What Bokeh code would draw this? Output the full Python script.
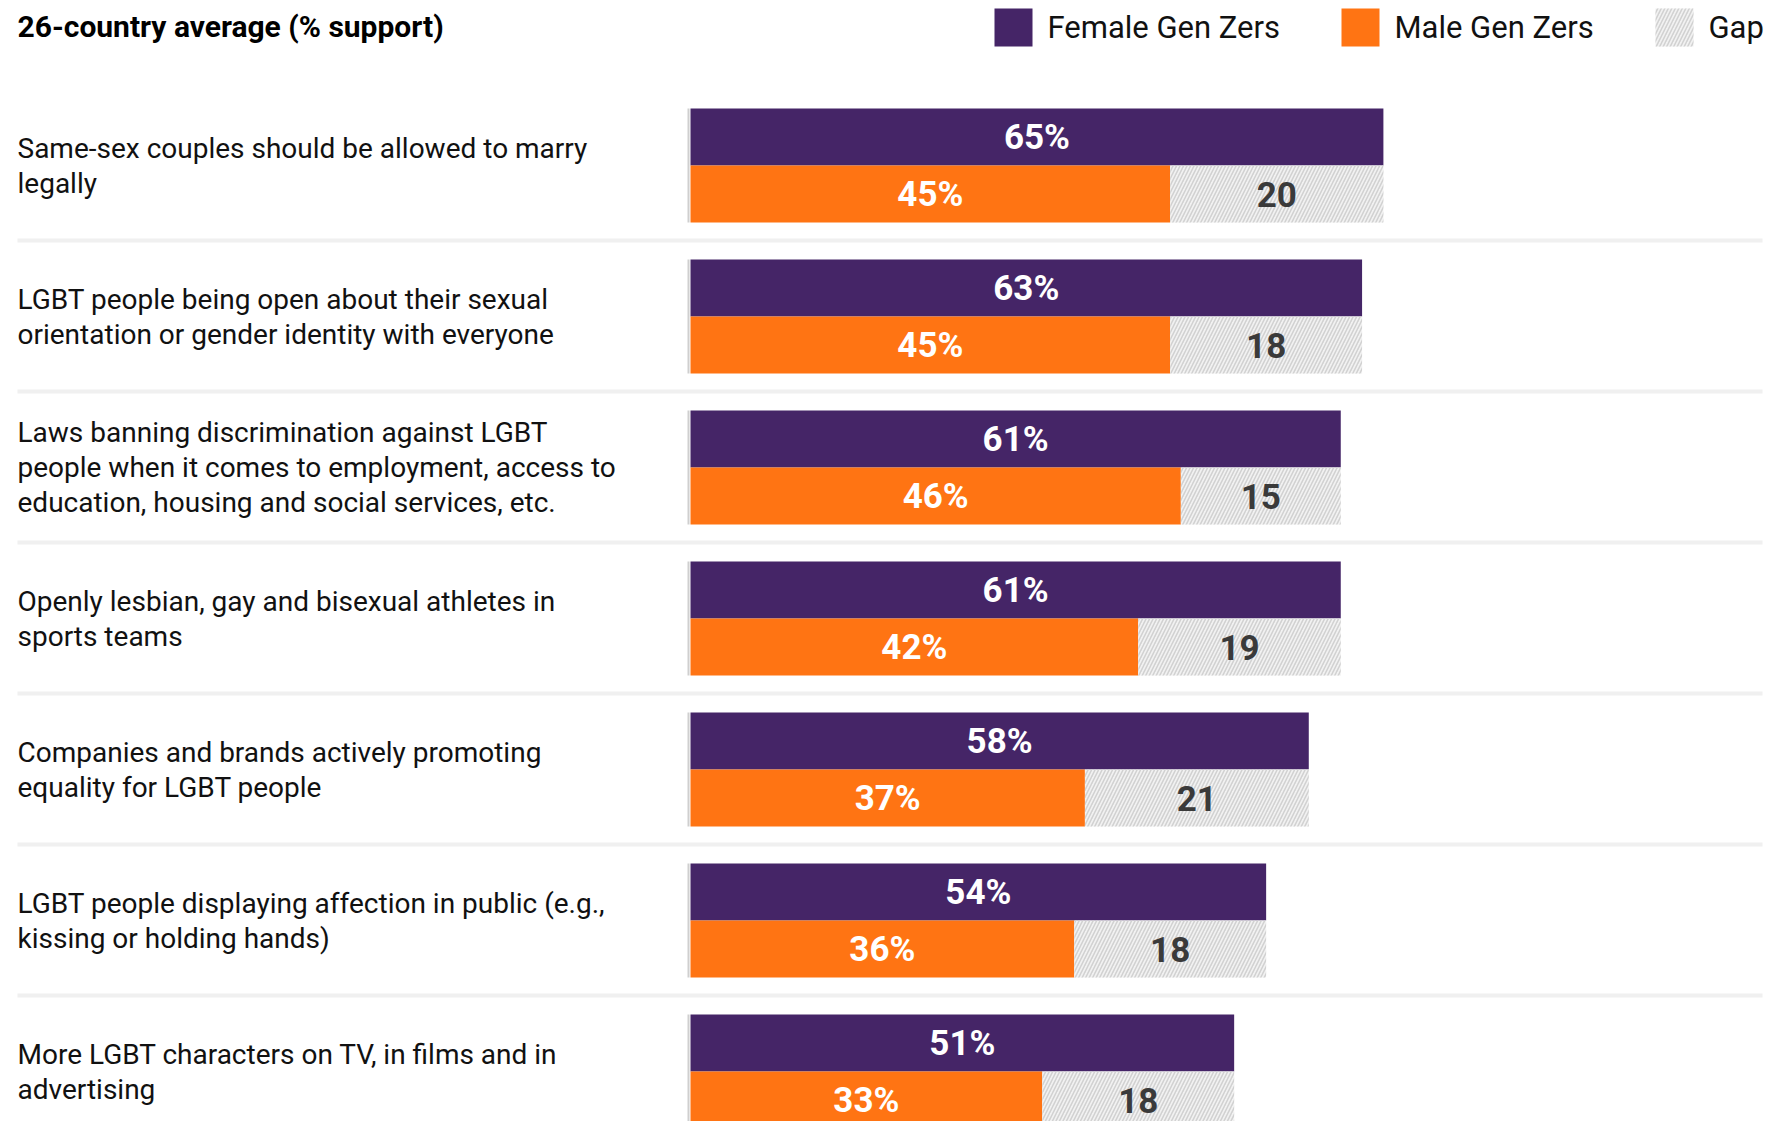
from bokeh.plotting import figure
from bokeh.models import Range1d, ColumnDataSource
from bokeh.core.properties import value
from bokeh.embed import file_html
from bokeh.resources import INLINE

# ---- data ----
categories = [
    ["Same-sex couples should be allowed to marry", "legally"],
    ["LGBT people being open about their sexual", "orientation or gender identity with everyone"],
    ["Laws banning discrimination against LGBT", "people when it comes to employment, access to",
     "education, housing and social services, etc."],
    ["Openly lesbian, gay and bisexual athletes in", "sports teams"],
    ["Companies and brands actively promoting", "equality for LGBT people"],
    ["LGBT people displaying affection in public (e.g.,", "kissing or holding hands)"],
    ["More LGBT characters on TV, in films and in", "advertising"],
]
female = [65, 63, 61, 61, 58, 54, 51]
male = [45, 45, 46, 42, 37, 36, 33]
gap = [20, 18, 15, 19, 21, 18, 18]
series_names = ["Female Gen Zers", "Male  Gen Zers", "Gap"]
title_text = "26-country average (% support)"

# ---- styles / layout ----
PURPLE = "#452567"
ORANGE = "#FF7413"
HATCH_BG = "#f2f2f2"
HATCH_LN = "#d2d2d2"
FONT = "Roboto"

W, H = 1772, 1121
X0_PAGE = 690.0          # pixel x of 0 %
PX_PCT = 10.66           # pixels per percent
ROW0_PAGE = 165.0        # pixel y of first row centre
ROW_PX = 151.0           # row pitch in px

def px_x(px):
    return (px - X0_PAGE) / PX_PCT

def px_y(py):
    return (py - ROW0_PAGE) / ROW_PX

p = figure(width=W, height=H, output_backend="svg", toolbar_location=None,
           x_range=Range1d(px_x(0), px_x(W)),
           y_range=Range1d(px_y(H), px_y(0)),
           min_border=0)
p.axis.visible = False
p.grid.visible = False
p.outline_line_color = None
p.background_fill_color = "white"

BH = 57.0 / ROW_PX
n = len(female)
rows = list(range(n))

# separators
sep_y = [i + 75.0 / ROW_PX for i in range(n - 1)]
p.segment(x0=[px_x(17)] * len(sep_y), x1=[px_x(1762)] * len(sep_y), y0=sep_y, y1=sep_y,
          line_color="#f0f0f0", line_width=4)

# left edge line
p.segment(x0=[px_x(688)] * n, x1=[px_x(688)] * n,
          y0=[i - BH for i in rows], y1=[i + BH for i in rows],
          line_color="#cfcfcf", line_width=2)

src = ColumnDataSource(dict(
    yf=[i - BH / 2 for i in rows], ym=[i + BH / 2 for i in rows],
    female=female, male=male, gap_right=[m + g for m, g in zip(male, gap)],
    fx=[f / 2 for f in female], mx=[m / 2 for m in male],
    gx=[m + g / 2 for m, g in zip(male, gap)],
    flab=[f"{v}%" for v in female], mlab=[f"{v}%" for v in male],
    glab=[str(v) for v in gap],
))

p.hbar(y="yf", left=0, right="female", height=BH, source=src,
       fill_color=PURPLE, line_color=None)
p.hbar(y="ym", left=0, right="male", height=BH, source=src,
       fill_color=ORANGE, line_color=None)
p.hbar(y="ym", left="male", right="gap_right", height=BH, source=src,
       fill_color=HATCH_BG, line_color=None,
       hatch_pattern="/", hatch_color=HATCH_LN, hatch_weight=1.6, hatch_scale=7)

VF = "35px"
p.text(x="fx", y="yf", text="flab", source=src, text_color="white",
       text_font=value(FONT), text_font_style="bold", text_font_size=VF,
       text_align="center", text_baseline="middle")
p.text(x="mx", y="ym", text="mlab", source=src, text_color="white",
       text_font=value(FONT), text_font_style="bold", text_font_size=VF,
       text_align="center", text_baseline="middle")
p.text(x="gx", y="ym", text="glab", source=src, text_color="#3a3a3a",
       text_font=value(FONT), text_font_style="bold", text_font_size=VF,
       text_align="center", text_baseline="middle")

# category labels
LINE = 35.0 / ROW_PX
lx, ly, lt = [], [], []
for i, lines in enumerate(categories):
    k = len(lines)
    for j, t in enumerate(lines):
        lx.append(px_x(17))
        ly.append(i + (j - (k - 1) / 2) * LINE)
        lt.append(t)
p.text(x=lx, y=ly, text=lt, text_color="#111111", text_font=value(FONT),
       text_font_size="28px", text_align="left", text_baseline="middle")

# title
p.text(x=[px_x(17)], y=[px_y(26)], text=[title_text], text_color="#000000",
       text_font=value(FONT), text_font_style="bold", text_font_size="30px",
       text_align="left", text_baseline="middle")

# legend
leg_y = px_y(27)
sq = 38
p.rect(x=[px_x(1013)], y=[leg_y], width=sq, height=sq, width_units="screen",
       height_units="screen", fill_color=PURPLE, line_color=None)
p.rect(x=[px_x(1360)], y=[leg_y], width=sq, height=sq, width_units="screen",
       height_units="screen", fill_color=ORANGE, line_color=None)
p.rect(x=[px_x(1674)], y=[leg_y], width=sq, height=sq, width_units="screen",
       height_units="screen", fill_color=HATCH_BG, line_color=None,
       hatch_pattern="/", hatch_color=HATCH_LN, hatch_weight=1.6, hatch_scale=7)
p.text(x=[px_x(1047), px_x(1394), px_x(1708)], y=[leg_y] * 3, text=series_names,
       text_color="#111111", text_font=value(FONT), text_font_size="31px",
       text_align="left", text_baseline="middle")

open("out.html", "w").write(file_html(p, INLINE))
